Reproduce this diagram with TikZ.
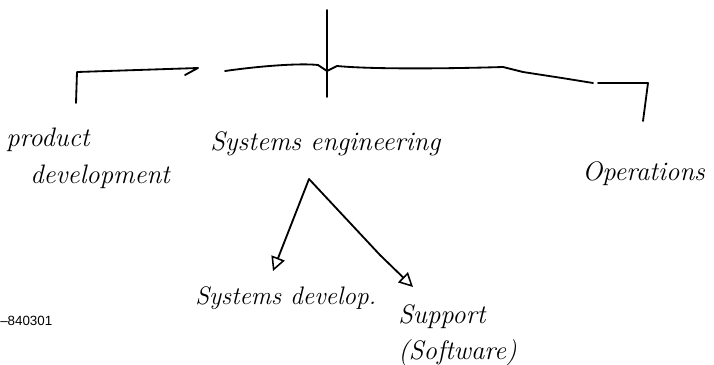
\documentclass[tikz,border=0pt]{standalone}
\usepackage{fontspec}
\newfontfamily\stampfont{Liberation Sans}
\usetikzlibrary{positioning,arrows.meta}

\tikzset{
  hand/.style={font=\fontsize{19}{26}\selectfont\itshape, inner sep=0pt},
  pen/.style={line width=1.3pt, line cap=round, line join=round},
  branch/.style={pen, -{Triangle[open, length=10pt, width=10pt, line width=1.1pt]}},
}

\begin{document}
\begin{tikzpicture}[x=0.025cm,y=-0.025cm]
  \useasboundingbox (0,0) rectangle (714,364);

  % names under the bar
  \node[hand, anchor=north west, align=left] (prod) at (6,128) {product\\\hspace{0.9em}development};
  \node[hand, anchor=base west] (syseng) at (210,150) {Systems engineering};
  \node[hand, anchor=base west] (ops) at (582,180) {Operations};

  % names under the arrows
  \node[hand, font=\fontsize{18}{24}\selectfont\itshape, anchor=base west] (sysdev) at (195,304) {Systems develop.};
  \node[hand, anchor=north west, align=left] (support) at (398,304) {Support\\(Software)};

  % reference number
  \node[font=\stampfont\fontsize{9.5}{11}\selectfont, anchor=base west, inner sep=0pt] (ref) at (0,325) {\textendash840301};

  % points of the bar
  \coordinate (top) at (327,10);
  \coordinate (hub) at (327,71);
  \coordinate (stem) at (327,97);
  \coordinate (lfoot) at (76,103);
  \coordinate (lcorner) at (77,72);
  \coordinate (lend) at (198,68);
  \coordinate (mstart) at (225,71);
  \coordinate (mend) at (593,83);
  \coordinate (rstart) at (598,83);
  \coordinate (rcorner) at (648,83);
  \coordinate (rfoot) at (643,121);

  % bar and stems
  \draw[pen] (top) -- (hub) -- (stem);
  \draw[pen] (lfoot) -- (lcorner) -- (lend) -- (185,75);
  \draw[pen] (mstart) .. controls (260,66) and (300,63) .. (318,65)
    -- (hub) -- (337,66) .. controls (380,70) and (470,68) .. (503,67)
    -- (523,72) -- (562,78) -- (mend);
  \draw[pen] (rstart) -- (rcorner) -- (rfoot);

  % arrows
  \coordinate (apex) at (309,179);
  \coordinate (devtip) at (273,271);
  \coordinate (kink) at (380,255);
  \coordinate (suptip) at (413,287);
  \draw[branch] (apex) -- (devtip);
  \draw[branch] (apex) -- (kink) -- (suptip);
\end{tikzpicture}
\end{document}
